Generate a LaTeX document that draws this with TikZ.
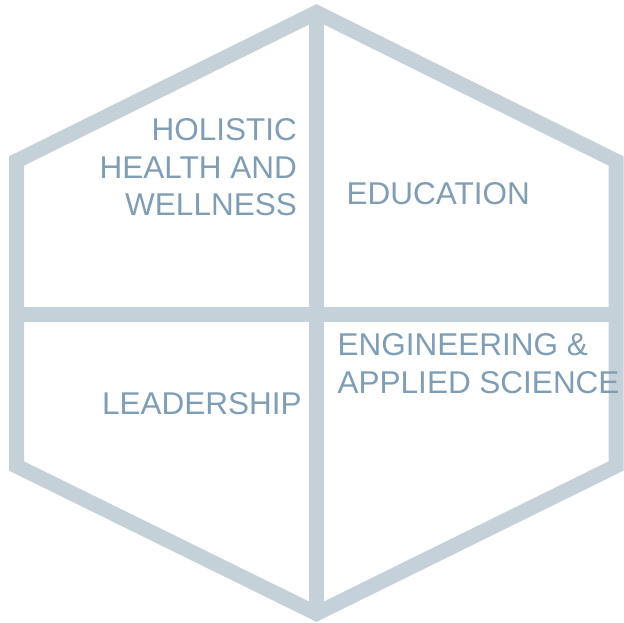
\documentclass[tikz,border=0pt]{standalone}
\usepackage{fontspec}
\setmainfont{Liberation Sans}
\definecolor{hexline}{RGB}{197,209,216}
\definecolor{areatext}{RGB}{127,157,181}
\begin{document}
\begin{tikzpicture}[x=1pt,y=-1pt,
  edge/.style={draw=hexline,line width=15pt},
  area/.style={text=areatext,inner sep=0pt,font=\fontsize{31.5}{37.5}\selectfont}]

\useasboundingbox (0,0) rectangle (624,623);

\coordinate (T) at (316.5,12.5);
\coordinate (TR) at (616,161);
\coordinate (BR) at (616,466);
\coordinate (B) at (316.5,613.5);
\coordinate (BL) at (16.5,466);
\coordinate (TL) at (16.5,161);
\coordinate (L) at (16.5,314);
\coordinate (R) at (616,314);

\draw[edge,line join=miter] (T) -- (TR) -- (BR) -- (B) -- (BL) -- (TL) -- cycle;
\draw[edge] (T) -- (B);
\draw[edge] (L) -- (R);

\node[area,anchor=north east,align=right] (health) at (297,118.5) {HOLISTIC\\HEALTH AND\\WELLNESS};
\node[area,anchor=base west] (education) at (346.5,204.5) {EDUCATION};
\node[area,anchor=north west,align=left] (engineering) at (337.5,333.5) {ENGINEERING \&\\APPLIED SCIENCE};
\node[area,anchor=base west] (leadership) at (102,414.5) {LEADERSHIP};

\end{tikzpicture}
\end{document}
